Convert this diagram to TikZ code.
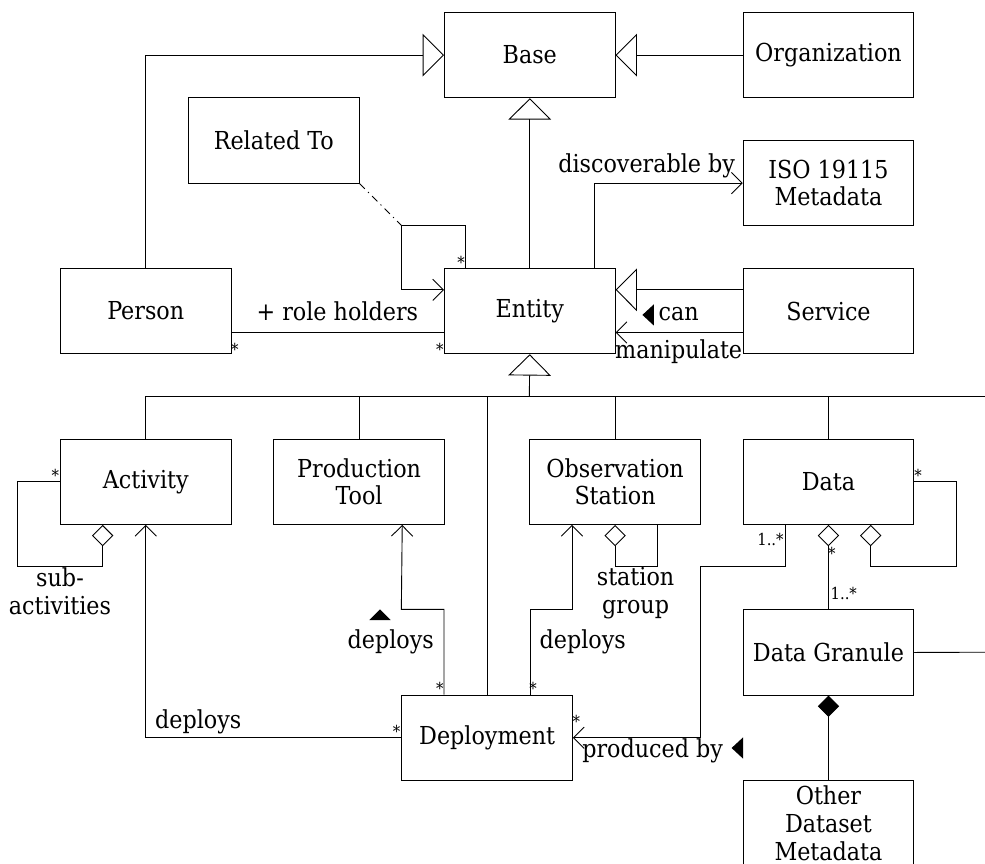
\documentclass[tikz,border=0pt]{standalone}
\usepackage{fontspec}
\setmainfont{DejaVu Serif Condensed}
\usetikzlibrary{arrows.meta,calc}

\newcommand\boxfont{\fontsize{16.5}{18.5}\selectfont}
\newcommand\multfont{\fontsize{11}{12}\selectfont}

\begin{document}
\begin{tikzpicture}[
  x=1cm, y=1cm,
  line width=0.6pt,
  cls/.style={draw, rectangle, minimum width=4cm, minimum height=2cm,
              inner sep=0pt, align=center, anchor=north west, font=\boxfont},
  lbl/.style={inner sep=0pt, anchor=base, font=\boxfont},
  mult/.style={inner sep=0pt, anchor=base, font=\multfont},
  gen/.style={-{Triangle[open,length=0.5cm,width=1cm]}},
  nav/.style={-{Straight Barb[length=0.25cm,width=0.5cm]}},
  agg/.style={{Diamond[open,length=0.5cm,width=0.5cm]}-},
  comp/.style={{Diamond[length=0.5cm,width=0.5cm]}-},
  assocclass/.style={dash pattern=on 5pt off 3pt on 0.8pt off 3pt},
]
\useasboundingbox (-1.40625,0.28125) rectangle (21.6797,-19.9453);
\clip (-1.40625,0.28125) rectangle (21.6797,-19.9453);

% classes
\node[cls] (base)     at (9,0)    {Base};
\node[cls] (org)      at (16,0)   {Organization};
\node[cls] (related)  at (3,-2)   {Related To};
\node[cls] (iso)      at (16,-3)  {ISO 19115\\Metadata};
\node[cls] (person)   at (0,-6)   {Person};
\node[cls] (entity)   at (9,-6)   {Entity};
\node[cls] (service)  at (16,-6)  {Service};
\node[cls] (activity) at (0,-10)  {Activity};
\node[cls] (prodtool) at (5,-10)  {Production\\Tool};
\node[cls] (obs)      at (11,-10) {Observation\\Station};
\node[cls] (data)     at (16,-10) {Data};
\node[cls] (granule)  at (16,-14) {Data Granule};
\node[cls] (deploy)   at (8,-16)  {Deployment};
\node[cls] (other)    at (16,-18) {Other\\Dataset\\Metadata};

% generalizations towards Base
\draw[gen] (person.north) |- (base.west);
\draw[gen] (org.west) -- (base.east);
\draw[gen] (entity.north) -- (base.south);

% Entity associations
\draw[nav] ($(entity.north east)+(-0.5,0)$) |- (iso.west);
\draw[gen] ($(service.west)+(0,0.5)$) -- ($(entity.east)+(0,0.5)$);
\draw[nav] ($(service.west)+(0,-0.5)$) -- ($(entity.east)+(0,-0.5)$);
\draw ($(person.east)+(0,-0.5)$) -- ($(entity.west)+(0,-0.5)$);
\coordinate (selfbend) at (8,-5);
\draw[nav] ($(entity.north west)+(0.5,0)$) |- (selfbend) |- ($(entity.west)+(0,0.5)$);
\draw[assocclass] (related.south east) -- (selfbend);

% specializations of Entity
\coordinate (bus) at (11,-9);
\coordinate (busend) at (23,-9);
\draw[gen] (bus) -- (entity.south);
\draw (activity.north) |- (busend);
\draw (prodtool.north) -- (prodtool.north |- bus);
\draw (deploy.north) -- (deploy.north |- bus);
\draw (obs.north) -- (obs.north |- bus);
\draw (data.north) -- (data.north |- bus);

% aggregations and composition
\draw[agg] ($(activity.south west)+(1,0)$) |- (-1,-13) |- (activity.west);
\draw[agg] (obs.south) |- (14,-13) -- ($(obs.south west)+(3,0)$);
\draw[agg] ($(data.south west)+(3,0)$) |- (21,-13) |- (data.east);
\draw[agg] (data.south) -- (granule.north);
\draw[comp] (granule.south) -- (other.north);
\coordinate (granend) at (23,-15);
\draw (granule.east) -- (granend);

% Deployment associations
\draw[nav] (deploy.west) -| (activity.south);
\draw[nav] ($(deploy.north west)+(1,0)$) |- (8,-14) -- ($(prodtool.south east)+(-1,0)$);
\draw[nav] ($(deploy.north east)+(-1,0)$) |- (12,-14) -- ($(obs.south west)+(1,0)$);
\draw[nav] ($(data.south west)+(1,0)$) |- (15,-13) |- (deploy.east);

% role names
\node[lbl] (l-disc)   at (13.75,-3.76) {discoverable by};
\node[lbl] (l-role)   at (6.5,-7.23)   {+ role holders};
\node[lbl] (l-can)    at (14.5,-7.23)  {can};
\node[lbl] (l-manip)  at (14.5,-8.12)  {manipulate};
\node[lbl, align=center] (l-sub) at (0,-14.12) {sub-\\activities};
\node[lbl] (l-depa)   at (3.24,-16.79) {deploys};
\node[lbl] (l-depp)   at (7.75,-14.91) {deploys};
\node[lbl] (l-depo)   at (12.25,-14.91) {deploys};
\node[lbl, align=center] (l-group) at (13.49,-14.1) {station\\group};
\node[lbl] (l-prod)   at (13.89,-17.47) {produced by};

% reading-direction marks
\fill (13.92,-6.85) -- (13.92,-7.35) -- (13.65,-7.1) -- cycle;
\fill (7.25,-14.25) -- (7.75,-14.25) -- (7.5,-14.0) -- cycle;
\fill (16.01,-17.0) -- (16.01,-17.5) -- (15.74,-17.25) -- cycle;

% multiplicities
\node[mult] (m1)  at (9.40,-6.0)   {*};
\node[mult] (m2)  at (4.10,-8.06)  {*};
\node[mult] (m3)  at (8.90,-8.06)  {*};
\node[mult] (m4)  at (-0.11,-11.0) {*};
\node[mult] (m5)  at (20.11,-11.0) {*};
\node[mult] (m6)  at (7.89,-17.0)  {*};
\node[mult] (m7)  at (8.90,-16.0)  {*};
\node[mult] (m8)  at (11.09,-16.0) {*};
\node[mult] (m9)  at (12.10,-16.78) {*};
\node[mult] (m10) at (18.09,-12.84) {*};
\node[mult, anchor=base east] (m11) at (16.97,-12.51) {1..*};
\node[mult, anchor=base west] (m12) at (18.05,-13.76) {1..*};
\end{tikzpicture}
\end{document}
